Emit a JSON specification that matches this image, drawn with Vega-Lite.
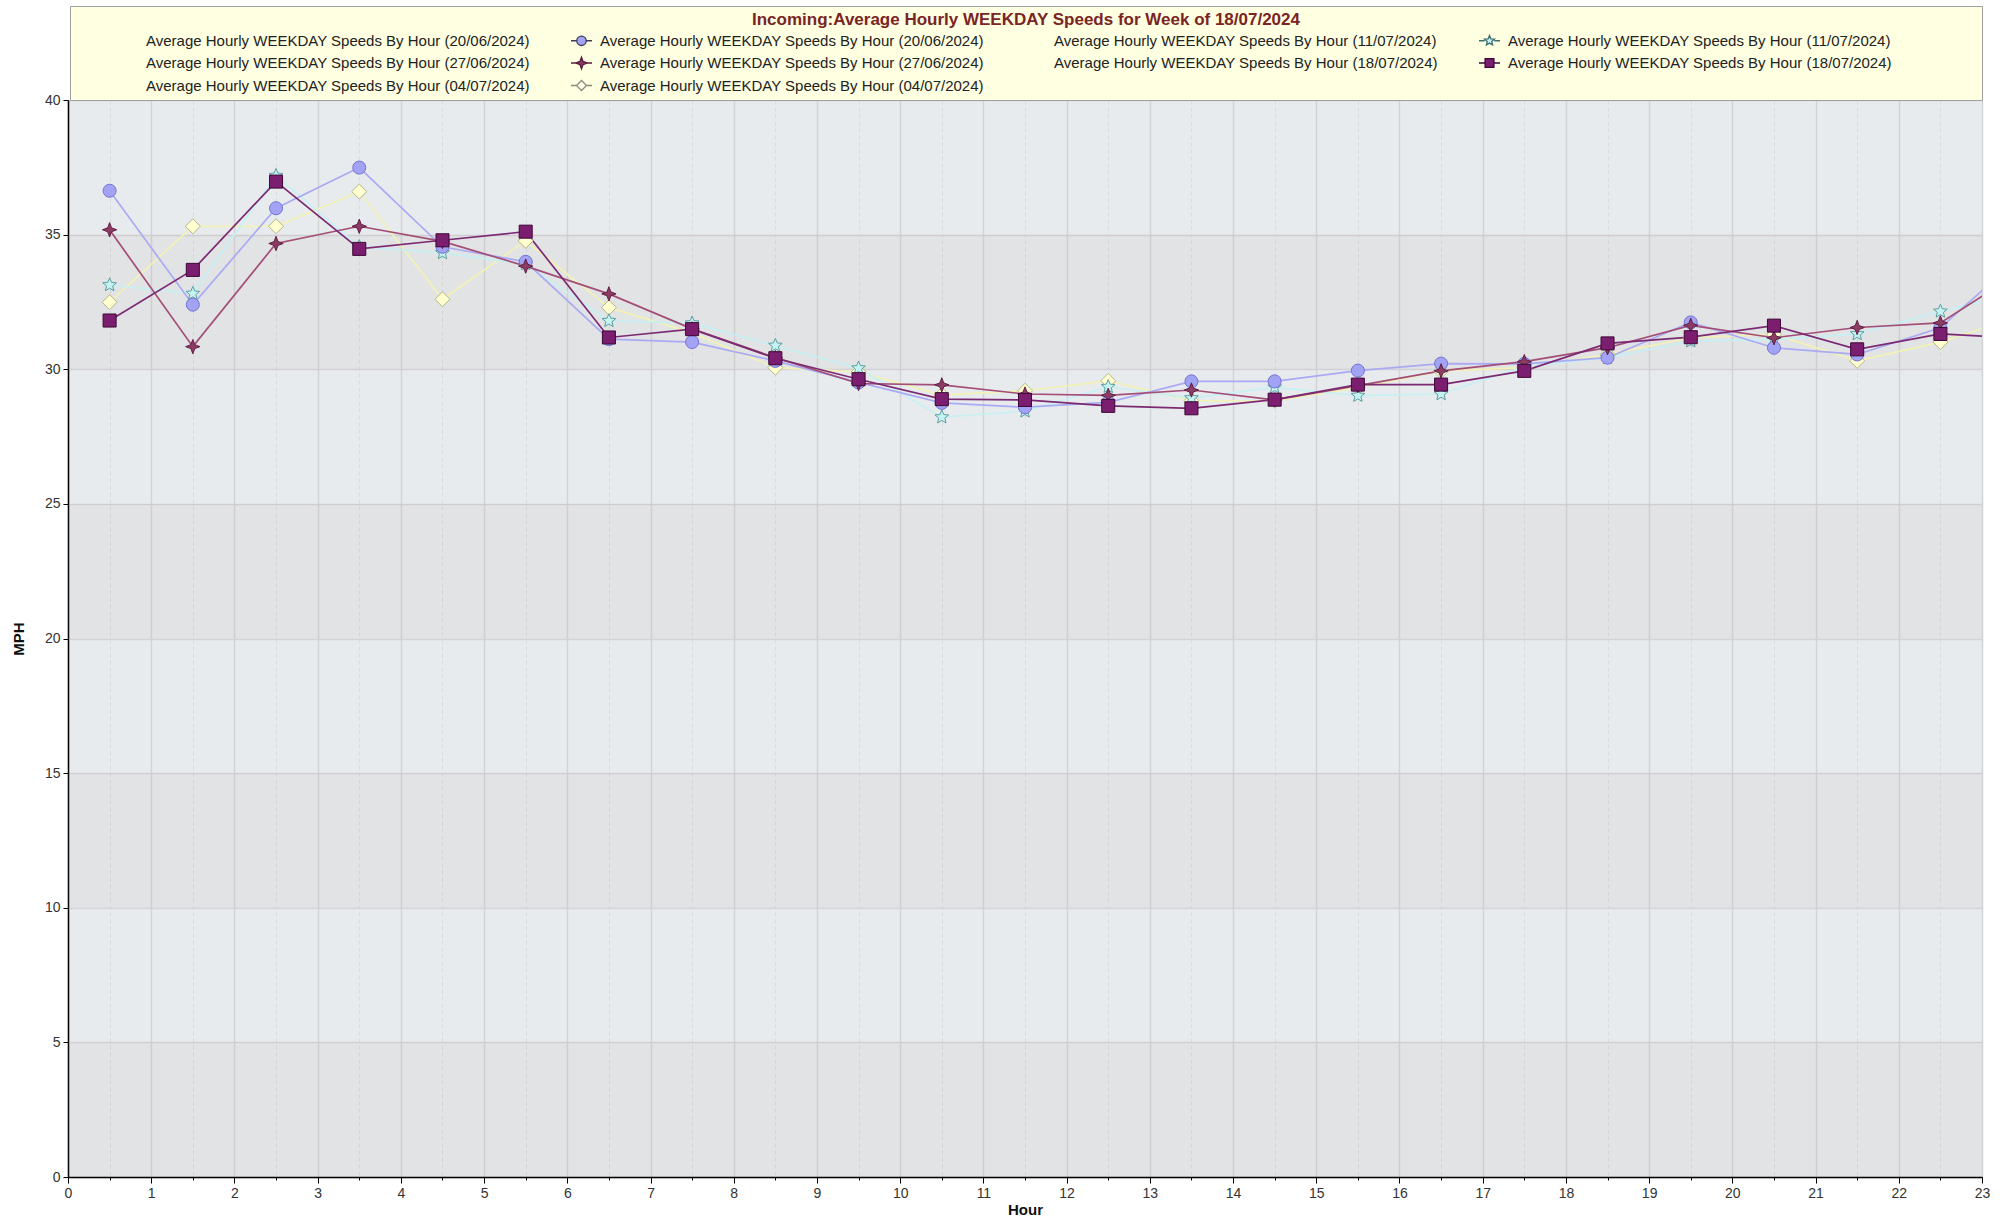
{
  "$schema": "https://vega.github.io/schema/vega-lite/v6.json",
  "width": 1914,
  "height": 1077,
  "autosize": {"type": "none"},
  "padding": {"left": 68, "top": 100, "right": 33, "bottom": 46},
  "background": "white",
  "datasets": {
    "bands": [
      {"lo": 0, "hi": 5}, {"lo": 10, "hi": 15}, {"lo": 20, "hi": 25}, {"lo": 30, "hi": 35}
    ],
    "speeds": [
      {"series": "04/07/2024", "hour": 0.5, "mph": 32.49}, {"series": "04/07/2024", "hour": 1.5, "mph": 35.31}, {"series": "04/07/2024", "hour": 2.5, "mph": 35.31}, {"series": "04/07/2024", "hour": 3.5, "mph": 36.6}, {"series": "04/07/2024", "hour": 4.5, "mph": 32.6}, {"series": "04/07/2024", "hour": 5.5, "mph": 34.77}, {"series": "04/07/2024", "hour": 6.5, "mph": 32.29}, {"series": "04/07/2024", "hour": 7.5, "mph": 31.35}, {"series": "04/07/2024", "hour": 8.5, "mph": 30.06}, {"series": "04/07/2024", "hour": 9.5, "mph": 29.9}, {"series": "04/07/2024", "hour": 10.5, "mph": 29.05}, {"series": "04/07/2024", "hour": 11.5, "mph": 29.2}, {"series": "04/07/2024", "hour": 12.5, "mph": 29.57}, {"series": "04/07/2024", "hour": 13.5, "mph": 28.83}, {"series": "04/07/2024", "hour": 14.5, "mph": 28.83}, {"series": "04/07/2024", "hour": 15.5, "mph": 29.32}, {"series": "04/07/2024", "hour": 16.5, "mph": 29.93}, {"series": "04/07/2024", "hour": 17.5, "mph": 30.06}, {"series": "04/07/2024", "hour": 18.5, "mph": 30.55}, {"series": "04/07/2024", "hour": 19.5, "mph": 31.17}, {"series": "04/07/2024", "hour": 20.5, "mph": 31.3}, {"series": "04/07/2024", "hour": 21.5, "mph": 30.31}, {"series": "04/07/2024", "hour": 22.5, "mph": 31.01}, {"series": "04/07/2024", "hour": 23.5, "mph": 32.0},
      {"series": "11/07/2024", "hour": 0.5, "mph": 33.13}, {"series": "11/07/2024", "hour": 1.5, "mph": 32.81}, {"series": "11/07/2024", "hour": 2.5, "mph": 37.19}, {"series": "11/07/2024", "hour": 3.5, "mph": 34.55}, {"series": "11/07/2024", "hour": 4.5, "mph": 34.32}, {"series": "11/07/2024", "hour": 5.5, "mph": 33.91}, {"series": "11/07/2024", "hour": 6.5, "mph": 31.8}, {"series": "11/07/2024", "hour": 7.5, "mph": 31.71}, {"series": "11/07/2024", "hour": 8.5, "mph": 30.88}, {"series": "11/07/2024", "hour": 9.5, "mph": 30.04}, {"series": "11/07/2024", "hour": 10.5, "mph": 28.22}, {"series": "11/07/2024", "hour": 11.5, "mph": 28.44}, {"series": "11/07/2024", "hour": 12.5, "mph": 29.35}, {"series": "11/07/2024", "hour": 13.5, "mph": 28.93}, {"series": "11/07/2024", "hour": 14.5, "mph": 29.33}, {"series": "11/07/2024", "hour": 15.5, "mph": 29.02}, {"series": "11/07/2024", "hour": 16.5, "mph": 29.08}, {"series": "11/07/2024", "hour": 17.5, "mph": 30.1}, {"series": "11/07/2024", "hour": 18.5, "mph": 30.43}, {"series": "11/07/2024", "hour": 19.5, "mph": 31.04}, {"series": "11/07/2024", "hour": 20.5, "mph": 31.11}, {"series": "11/07/2024", "hour": 21.5, "mph": 31.31}, {"series": "11/07/2024", "hour": 22.5, "mph": 32.15}, {"series": "11/07/2024", "hour": 23.5, "mph": 32.9},
      {"series": "20/06/2024", "hour": 0.5, "mph": 36.63}, {"series": "20/06/2024", "hour": 1.5, "mph": 32.4}, {"series": "20/06/2024", "hour": 2.5, "mph": 35.98}, {"series": "20/06/2024", "hour": 3.5, "mph": 37.49}, {"series": "20/06/2024", "hour": 4.5, "mph": 34.55}, {"series": "20/06/2024", "hour": 5.5, "mph": 33.99}, {"series": "20/06/2024", "hour": 6.5, "mph": 31.12}, {"series": "20/06/2024", "hour": 7.5, "mph": 31.01}, {"series": "20/06/2024", "hour": 8.5, "mph": 30.31}, {"series": "20/06/2024", "hour": 9.5, "mph": 29.51}, {"series": "20/06/2024", "hour": 10.5, "mph": 28.75}, {"series": "20/06/2024", "hour": 11.5, "mph": 28.59}, {"series": "20/06/2024", "hour": 12.5, "mph": 28.77}, {"series": "20/06/2024", "hour": 13.5, "mph": 29.55}, {"series": "20/06/2024", "hour": 14.5, "mph": 29.55}, {"series": "20/06/2024", "hour": 15.5, "mph": 29.95}, {"series": "20/06/2024", "hour": 16.5, "mph": 30.21}, {"series": "20/06/2024", "hour": 17.5, "mph": 30.2}, {"series": "20/06/2024", "hour": 18.5, "mph": 30.43}, {"series": "20/06/2024", "hour": 19.5, "mph": 31.74}, {"series": "20/06/2024", "hour": 20.5, "mph": 30.8}, {"series": "20/06/2024", "hour": 21.5, "mph": 30.55}, {"series": "20/06/2024", "hour": 22.5, "mph": 31.54}, {"series": "20/06/2024", "hour": 23.5, "mph": 34.3},
      {"series": "27/06/2024", "hour": 0.5, "mph": 35.18}, {"series": "27/06/2024", "hour": 1.5, "mph": 30.84}, {"series": "27/06/2024", "hour": 2.5, "mph": 34.67}, {"series": "27/06/2024", "hour": 3.5, "mph": 35.31}, {"series": "27/06/2024", "hour": 4.5, "mph": 34.75}, {"series": "27/06/2024", "hour": 5.5, "mph": 33.83}, {"series": "27/06/2024", "hour": 6.5, "mph": 32.8}, {"series": "27/06/2024", "hour": 7.5, "mph": 31.5}, {"series": "27/06/2024", "hour": 8.5, "mph": 30.43}, {"series": "27/06/2024", "hour": 9.5, "mph": 29.47}, {"series": "27/06/2024", "hour": 10.5, "mph": 29.42}, {"series": "27/06/2024", "hour": 11.5, "mph": 29.08}, {"series": "27/06/2024", "hour": 12.5, "mph": 29.03}, {"series": "27/06/2024", "hour": 13.5, "mph": 29.23}, {"series": "27/06/2024", "hour": 14.5, "mph": 28.86}, {"series": "27/06/2024", "hour": 15.5, "mph": 29.39}, {"series": "27/06/2024", "hour": 16.5, "mph": 29.94}, {"series": "27/06/2024", "hour": 17.5, "mph": 30.28}, {"series": "27/06/2024", "hour": 18.5, "mph": 30.8}, {"series": "27/06/2024", "hour": 19.5, "mph": 31.63}, {"series": "27/06/2024", "hour": 20.5, "mph": 31.17}, {"series": "27/06/2024", "hour": 21.5, "mph": 31.55}, {"series": "27/06/2024", "hour": 22.5, "mph": 31.72}, {"series": "27/06/2024", "hour": 23.5, "mph": 33.7},
      {"series": "18/07/2024", "hour": 0.5, "mph": 31.81}, {"series": "18/07/2024", "hour": 1.5, "mph": 33.69}, {"series": "18/07/2024", "hour": 2.5, "mph": 36.97}, {"series": "18/07/2024", "hour": 3.5, "mph": 34.47}, {"series": "18/07/2024", "hour": 4.5, "mph": 34.79}, {"series": "18/07/2024", "hour": 5.5, "mph": 35.11}, {"series": "18/07/2024", "hour": 6.5, "mph": 31.18}, {"series": "18/07/2024", "hour": 7.5, "mph": 31.49}, {"series": "18/07/2024", "hour": 8.5, "mph": 30.41}, {"series": "18/07/2024", "hour": 9.5, "mph": 29.63}, {"series": "18/07/2024", "hour": 10.5, "mph": 28.89}, {"series": "18/07/2024", "hour": 11.5, "mph": 28.86}, {"series": "18/07/2024", "hour": 12.5, "mph": 28.64}, {"series": "18/07/2024", "hour": 13.5, "mph": 28.55}, {"series": "18/07/2024", "hour": 14.5, "mph": 28.87}, {"series": "18/07/2024", "hour": 15.5, "mph": 29.43}, {"series": "18/07/2024", "hour": 16.5, "mph": 29.43}, {"series": "18/07/2024", "hour": 17.5, "mph": 29.94}, {"series": "18/07/2024", "hour": 18.5, "mph": 30.96}, {"series": "18/07/2024", "hour": 19.5, "mph": 31.19}, {"series": "18/07/2024", "hour": 20.5, "mph": 31.62}, {"series": "18/07/2024", "hour": 21.5, "mph": 30.74}, {"series": "18/07/2024", "hour": 22.5, "mph": 31.31}, {"series": "18/07/2024", "hour": 23.5, "mph": 31.15}
    ]
  },
  "layer": [
    {
      "data": {"name": "bands"},
      "mark": {"type": "rect", "color": "#A1796E", "opacity": 0.07},
      "encoding": {
        "y": {"field": "lo", "type": "quantitative", "scale": {"domain": [0, 40], "nice": false, "zero": true}},
        "y2": {"field": "hi"}
      }
    },
    {
      "data": {"name": "speeds"},
      "mark": {"type": "line", "strokeWidth": 1.7, "clip": true},
      "encoding": {
        "x": {
          "field": "hour", "type": "quantitative",
          "scale": {"domain": [0, 23], "nice": false, "zero": false},
          "axis": {
            "title": "Hour", "titlePadding": 2,
            "values": [0, 0.5, 1, 1.5, 2, 2.5, 3, 3.5, 4, 4.5, 5, 5.5, 6, 6.5, 7, 7.5, 8, 8.5, 9, 9.5, 10, 10.5, 11, 11.5, 12, 12.5, 13, 13.5, 14, 14.5, 15, 15.5, 16, 16.5, 17, 17.5, 18, 18.5, 19, 19.5, 20, 20.5, 21, 21.5, 22, 22.5, 23],
            "labelExpr": "datum.value % 1 == 0 ? format(datum.value, 'd') : ''",
            "labelFlush": false, "labelOverlap": false, "labelPadding": 3,
            "tickSize": {"condition": {"test": "datum.value % 1 != 0", "value": 3}, "value": 6},
            "gridDash": {"condition": {"test": "datum.value % 1 != 0", "value": [4, 3]}, "value": []},
            "gridColor": {"condition": {"test": "datum.value % 1 != 0", "value": "#DADADF"}, "value": "#D3D3D7"},
            "gridWidth": {"condition": {"test": "datum.value % 1 != 0", "value": 1}, "value": 1.5}
          }
        },
        "y": {
          "field": "mph", "type": "quantitative",
          "axis": {"title": "MPH", "titlePadding": 18, "values": [0, 5, 10, 15, 20, 25, 30, 35, 40], "labelFlush": false, "tickSize": 5, "labelPadding": 3}
        },
        "color": {
          "field": "series", "type": "nominal",
          "scale": {"domain": ["04/07/2024", "11/07/2024", "20/06/2024", "27/06/2024", "18/07/2024"], "range": ["#F2F2B6", "#C6F0F3", "#AAAAF4", "#A24E77", "#7B2A72"]},
          "legend": null
        }
      }
    },
    {
      "data": {"name": "speeds"},
      "mark": {"type": "point", "filled": true, "opacity": 1, "size": 170, "strokeWidth": 1, "clip": true},
      "encoding": {
        "x": {"field": "hour", "type": "quantitative"},
        "y": {"field": "mph", "type": "quantitative"},
        "fill": {
          "field": "series", "type": "nominal",
          "scale": {"domain": ["04/07/2024", "11/07/2024", "20/06/2024", "27/06/2024", "18/07/2024"], "range": ["#FFFFD0", "#C5F3F3", "#A3A3F5", "#8C3B63", "#7B1E6F"]},
          "legend": null
        },
        "stroke": {
          "field": "series", "type": "nominal",
          "scale": {"domain": ["04/07/2024", "11/07/2024", "20/06/2024", "27/06/2024", "18/07/2024"], "range": ["#B5B58A", "#5E9E9E", "#7373D0", "#5F1F43", "#3D0836"]},
          "legend": null
        },
        "shape": {
          "field": "series", "type": "nominal",
          "scale": {"domain": ["04/07/2024", "11/07/2024", "20/06/2024", "27/06/2024", "18/07/2024"], "range": ["M-1.15,0L0,-1.15L1.15,0L0,1.15Z", "M0,-1.1L0.29,-0.4L1.05,-0.34L0.47,0.15L0.65,0.89L0,0.5L-0.65,0.89L-0.47,0.15L-1.05,-0.34L-0.29,-0.4Z", "circle", "M0,-1.1L0.3,-0.3L1.1,0L0.3,0.3L0,1.1L-0.3,0.3L-1.1,0L-0.3,-0.3Z", "square"]},
          "legend": null
        }
      }
    },
    {
      "data": {"name": "speeds"},
      "transform": [{"filter": "false"}],
      "mark": {"type": "point", "filled": true, "opacity": 1},
      "encoding": {
        "x": {"field": "hour", "type": "quantitative"},
        "y": {"field": "mph", "type": "quantitative"},
        "fill": {
          "field": "series", "type": "nominal",
          "scale": {"domain": ["~20/06/2024", "20/06/2024", "~11/07/2024", "11/07/2024", "~27/06/2024", "27/06/2024", "~18/07/2024", "18/07/2024", "~04/07/2024", "04/07/2024"], "range": ["transparent", "#A3A3F5", "transparent", "#C5F3F3", "transparent", "#8C3B63", "transparent", "#7B1E6F", "transparent", "#FFFFE8"]},
          "legend": {"title": "Incoming:Average Hourly WEEKDAY Speeds for Week of 18/07/2024", "orient": "none", "direction": "horizontal", "legendX": 2, "legendY": -94, "labelExpr": "'Average Hourly WEEKDAY Speeds By Hour (' + replace(datum.label, '~', '') + ')' + ((datum.label == '11/07/2024' || datum.label == '18/07/2024') ? '\u00a0\u00a0\u00a0\u00a0\u00a0\u00a0\u00a0\u00a0\u00a0\u00a0\u00a0\u00a0\u00a0\u00a0\u00a0\u00a0\u00a0\u00a0\u00a0\u00a0\u200b' : '')"}
        },
        "stroke": {
          "field": "series", "type": "nominal",
          "scale": {"domain": ["~20/06/2024", "20/06/2024", "~11/07/2024", "11/07/2024", "~27/06/2024", "27/06/2024", "~18/07/2024", "18/07/2024", "~04/07/2024", "04/07/2024"], "range": ["transparent", "#3C3C5C", "transparent", "#3E6E70", "transparent", "#5A1A3C", "transparent", "#3A0833", "transparent", "#8A8A80"]},
          "legend": {"title": "Incoming:Average Hourly WEEKDAY Speeds for Week of 18/07/2024", "orient": "none", "direction": "horizontal", "legendX": 2, "legendY": -94, "labelExpr": "'Average Hourly WEEKDAY Speeds By Hour (' + replace(datum.label, '~', '') + ')' + ((datum.label == '11/07/2024' || datum.label == '18/07/2024') ? '\u00a0\u00a0\u00a0\u00a0\u00a0\u00a0\u00a0\u00a0\u00a0\u00a0\u00a0\u00a0\u00a0\u00a0\u00a0\u00a0\u00a0\u00a0\u00a0\u00a0\u200b' : '')"}
        },
        "shape": {
          "field": "series", "type": "nominal",
          "scale": {"domain": ["~20/06/2024", "20/06/2024", "~11/07/2024", "11/07/2024", "~27/06/2024", "27/06/2024", "~18/07/2024", "18/07/2024", "~04/07/2024", "04/07/2024"], "range": ["M0,0Z", "M-1,0L-0.45,0M0.45,0L1,0M0.45,0A0.45,0.45 0 1 1 -0.45,0A0.45,0.45 0 1 1 0.45,0Z", "M0,0Z", "M-1,0L-0.456,0M0.456,0L1,0M0,-0.5L0.13,-0.18L0.476,-0.155L0.215,0.068L0.294,0.405L0,0.225L-0.294,0.405L-0.215,0.068L-0.476,-0.155L-0.13,-0.18Z", "M0,0Z", "M-1,0L-0.55,0M0.55,0L1,0M0,-0.55L0.15,-0.15L0.55,0L0.15,0.15L0,0.55L-0.15,0.15L-0.55,0L-0.15,-0.15Z", "M0,0Z", "M-1,0L-0.42,0M0.42,0L1,0M-0.42,-0.42L0.42,-0.42L0.42,0.42L-0.42,0.42Z", "M0,0Z", "M-1,0L-0.48,0M0.48,0L1,0M-0.48,0L0,-0.48L0.48,0L0,0.48Z"]},
          "legend": {"title": "Incoming:Average Hourly WEEKDAY Speeds for Week of 18/07/2024", "orient": "none", "direction": "horizontal", "legendX": 2, "legendY": -94, "labelExpr": "'Average Hourly WEEKDAY Speeds By Hour (' + replace(datum.label, '~', '') + ')' + ((datum.label == '11/07/2024' || datum.label == '18/07/2024') ? '\u00a0\u00a0\u00a0\u00a0\u00a0\u00a0\u00a0\u00a0\u00a0\u00a0\u00a0\u00a0\u00a0\u00a0\u00a0\u00a0\u00a0\u00a0\u00a0\u00a0\u200b' : '')"}
        }
      }
    },
    {
      "mark": {"type": "text", "align": "left", "baseline": "middle", "dx": 9, "dy": 14, "fontSize": 15, "font": "Liberation Sans", "color": "#1E1E1E"},
      "encoding": {
        "x": {"datum": 0, "type": "quantitative"},
        "y": {"datum": 40, "type": "quantitative"},
        "text": {"value": "Southam Lane West"}
      }
    },
    {
      "mark": {"type": "text", "align": "left", "baseline": "middle", "dx": 9, "dy": 51, "fontSize": 15, "font": "Liberation Sans", "color": "#1E1E1E"},
      "encoding": {
        "x": {"datum": 0, "type": "quantitative"},
        "y": {"datum": 40, "type": "quantitative"},
        "text": {"value": "Average Weekly Speeds"}
      }
    }
  ],
  "resolve": {"scale": {"fill": "independent", "stroke": "independent", "shape": "independent"}},
  "config": {
    "font": "Liberation Sans",
    "view": {"fill": "#E8EBEE", "stroke": "#8C8C8C", "strokeWidth": 1},
    "axis": {
      "domainColor": "#000000", "domainWidth": 1.5, "tickColor": "#000000",
      "labelFont": "Liberation Sans", "labelFontSize": 14, "labelColor": "#333333",
      "titleFont": "Liberation Sans", "titleFontSize": 15, "titleFontWeight": "bold", "titleColor": "#111111",
      "gridColor": "#D3D3D7", "gridWidth": 1.5
    },
    "legend": {
      "padding": 6, "fillColor": "#FFFFE1", "strokeColor": "#A0A0A0",
      "columns": 4, "columnPadding": 0, "rowPadding": 2.5, "gridAlign": "each",
      "labelOffset": 7, "symbolOffset": 40, "symbolSize": 441, "symbolStrokeWidth": 1.3,
      "labelFont": "Liberation Sans", "labelFontSize": 15, "labelColor": "#222222", "labelLimit": 2000,
      "titleFont": "Liberation Sans", "titleFontSize": 17, "titleFontWeight": "bold", "titleColor": "#7A2424",
      "titleAnchor": "middle", "titleLimit": 3000, "titlePadding": 0
    }
  }
}
